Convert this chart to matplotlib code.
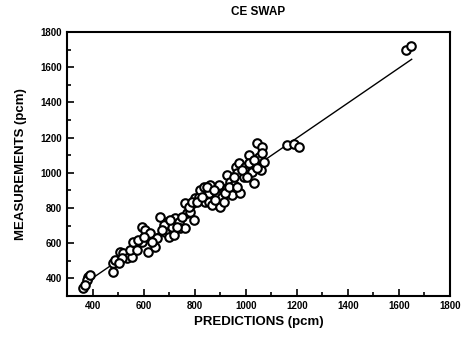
import matplotlib
matplotlib.use("Agg")
import matplotlib.pyplot as plt
from matplotlib.ticker import MultipleLocator

plt.rcParams['font.family'] = ['Liberation Sans', 'DejaVu Sans']
plt.rcParams['font.weight'] = 'bold'

predictions = [364, 384, 377, 390, 482, 482, 488, 508, 521, 534, 554, 547, 560,
               593, 593, 606, 619, 626, 646, 652, 665, 685, 691, 698, 711, 718,
               724, 737, 744, 763, 770, 763, 783, 796, 803, 816, 822, 835, 842,
               855, 855, 862, 868, 888, 894, 901, 907, 914, 927, 927, 940, 947,
               953, 960, 966, 973, 979, 992, 999, 1012, 1019, 1025, 1032, 1038,
               1045, 1051, 1064, 1058, 1071, 1163, 1189, 1208, 1627, 1647,
               574, 580, 632, 678, 704, 731, 750, 776, 790, 809, 829, 848, 875,
               881, 920, 934, 953, 966, 986, 1006, 1012, 1032, 1045, 1064, 371,
               515, 502, 672, 600]
measurements = [343, 410, 391, 419, 438, 485, 504, 552, 542, 514, 523, 561, 609,
                 609, 694, 675, 552, 656, 580, 627, 751, 665, 722, 637, 694, 646,
                 741, 722, 684, 826, 769, 684, 779, 732, 855, 864, 902, 921, 836,
                 883, 836, 930, 817, 874, 930, 807, 864, 836, 912, 987, 949, 874,
                 930, 1035, 997, 1054, 883, 978, 1035, 1101, 1044, 1006, 940, 1044,
                 1167, 1091, 1148, 1016, 1063, 1158, 1163, 1148, 1698, 1720,
                 561, 618, 609, 703, 732, 694, 751, 807, 836, 836, 864, 921, 902,
                 845, 883, 921, 978, 921, 1016, 978, 1054, 1073, 1025, 1110, 362,
                 514, 485, 675, 637]

# fitted line end points
fit_x = [370, 1650]
fit_y = [372, 1645]

fig = plt.figure(figsize=(4.64, 3.43), dpi=100)
ax = fig.add_axes([0.1444, 0.137, 0.8254, 0.7697])

ax.plot(fit_x, fit_y, color='black', linewidth=1.0, zorder=2)
ax.scatter(predictions, measurements, s=38, facecolors='white',
           edgecolors='black', linewidths=1.5, zorder=3)

ax.set_xlim(300, 1800)
ax.set_ylim(300, 1800)
ax.xaxis.set_minor_locator(MultipleLocator(100))
ax.yaxis.set_minor_locator(MultipleLocator(100))
ax.set_xticks(range(400, 1801, 200))
ax.set_yticks(range(400, 1801, 200))

ax.tick_params(which='both', direction='in', top=False, right=False,
               labelsize=7, width=1.2)
ax.tick_params(which='major', length=5)
ax.tick_params(which='minor', length=3)
for lab in ax.get_xticklabels() + ax.get_yticklabels():
    lab.set_fontweight('bold')
for sp in ax.spines.values():
    sp.set_linewidth(1.5)

ax.set_xlabel('PREDICTIONS (pcm)', fontsize=9.5, fontweight='bold', labelpad=4)
ax.set_ylabel('MEASUREMENTS (pcm)', fontsize=9.5, fontweight='bold', labelpad=10)
ax.set_title('CE SWAP', fontsize=8.5, fontweight='bold', pad=12)

fig.savefig('out.png', dpi=100)
